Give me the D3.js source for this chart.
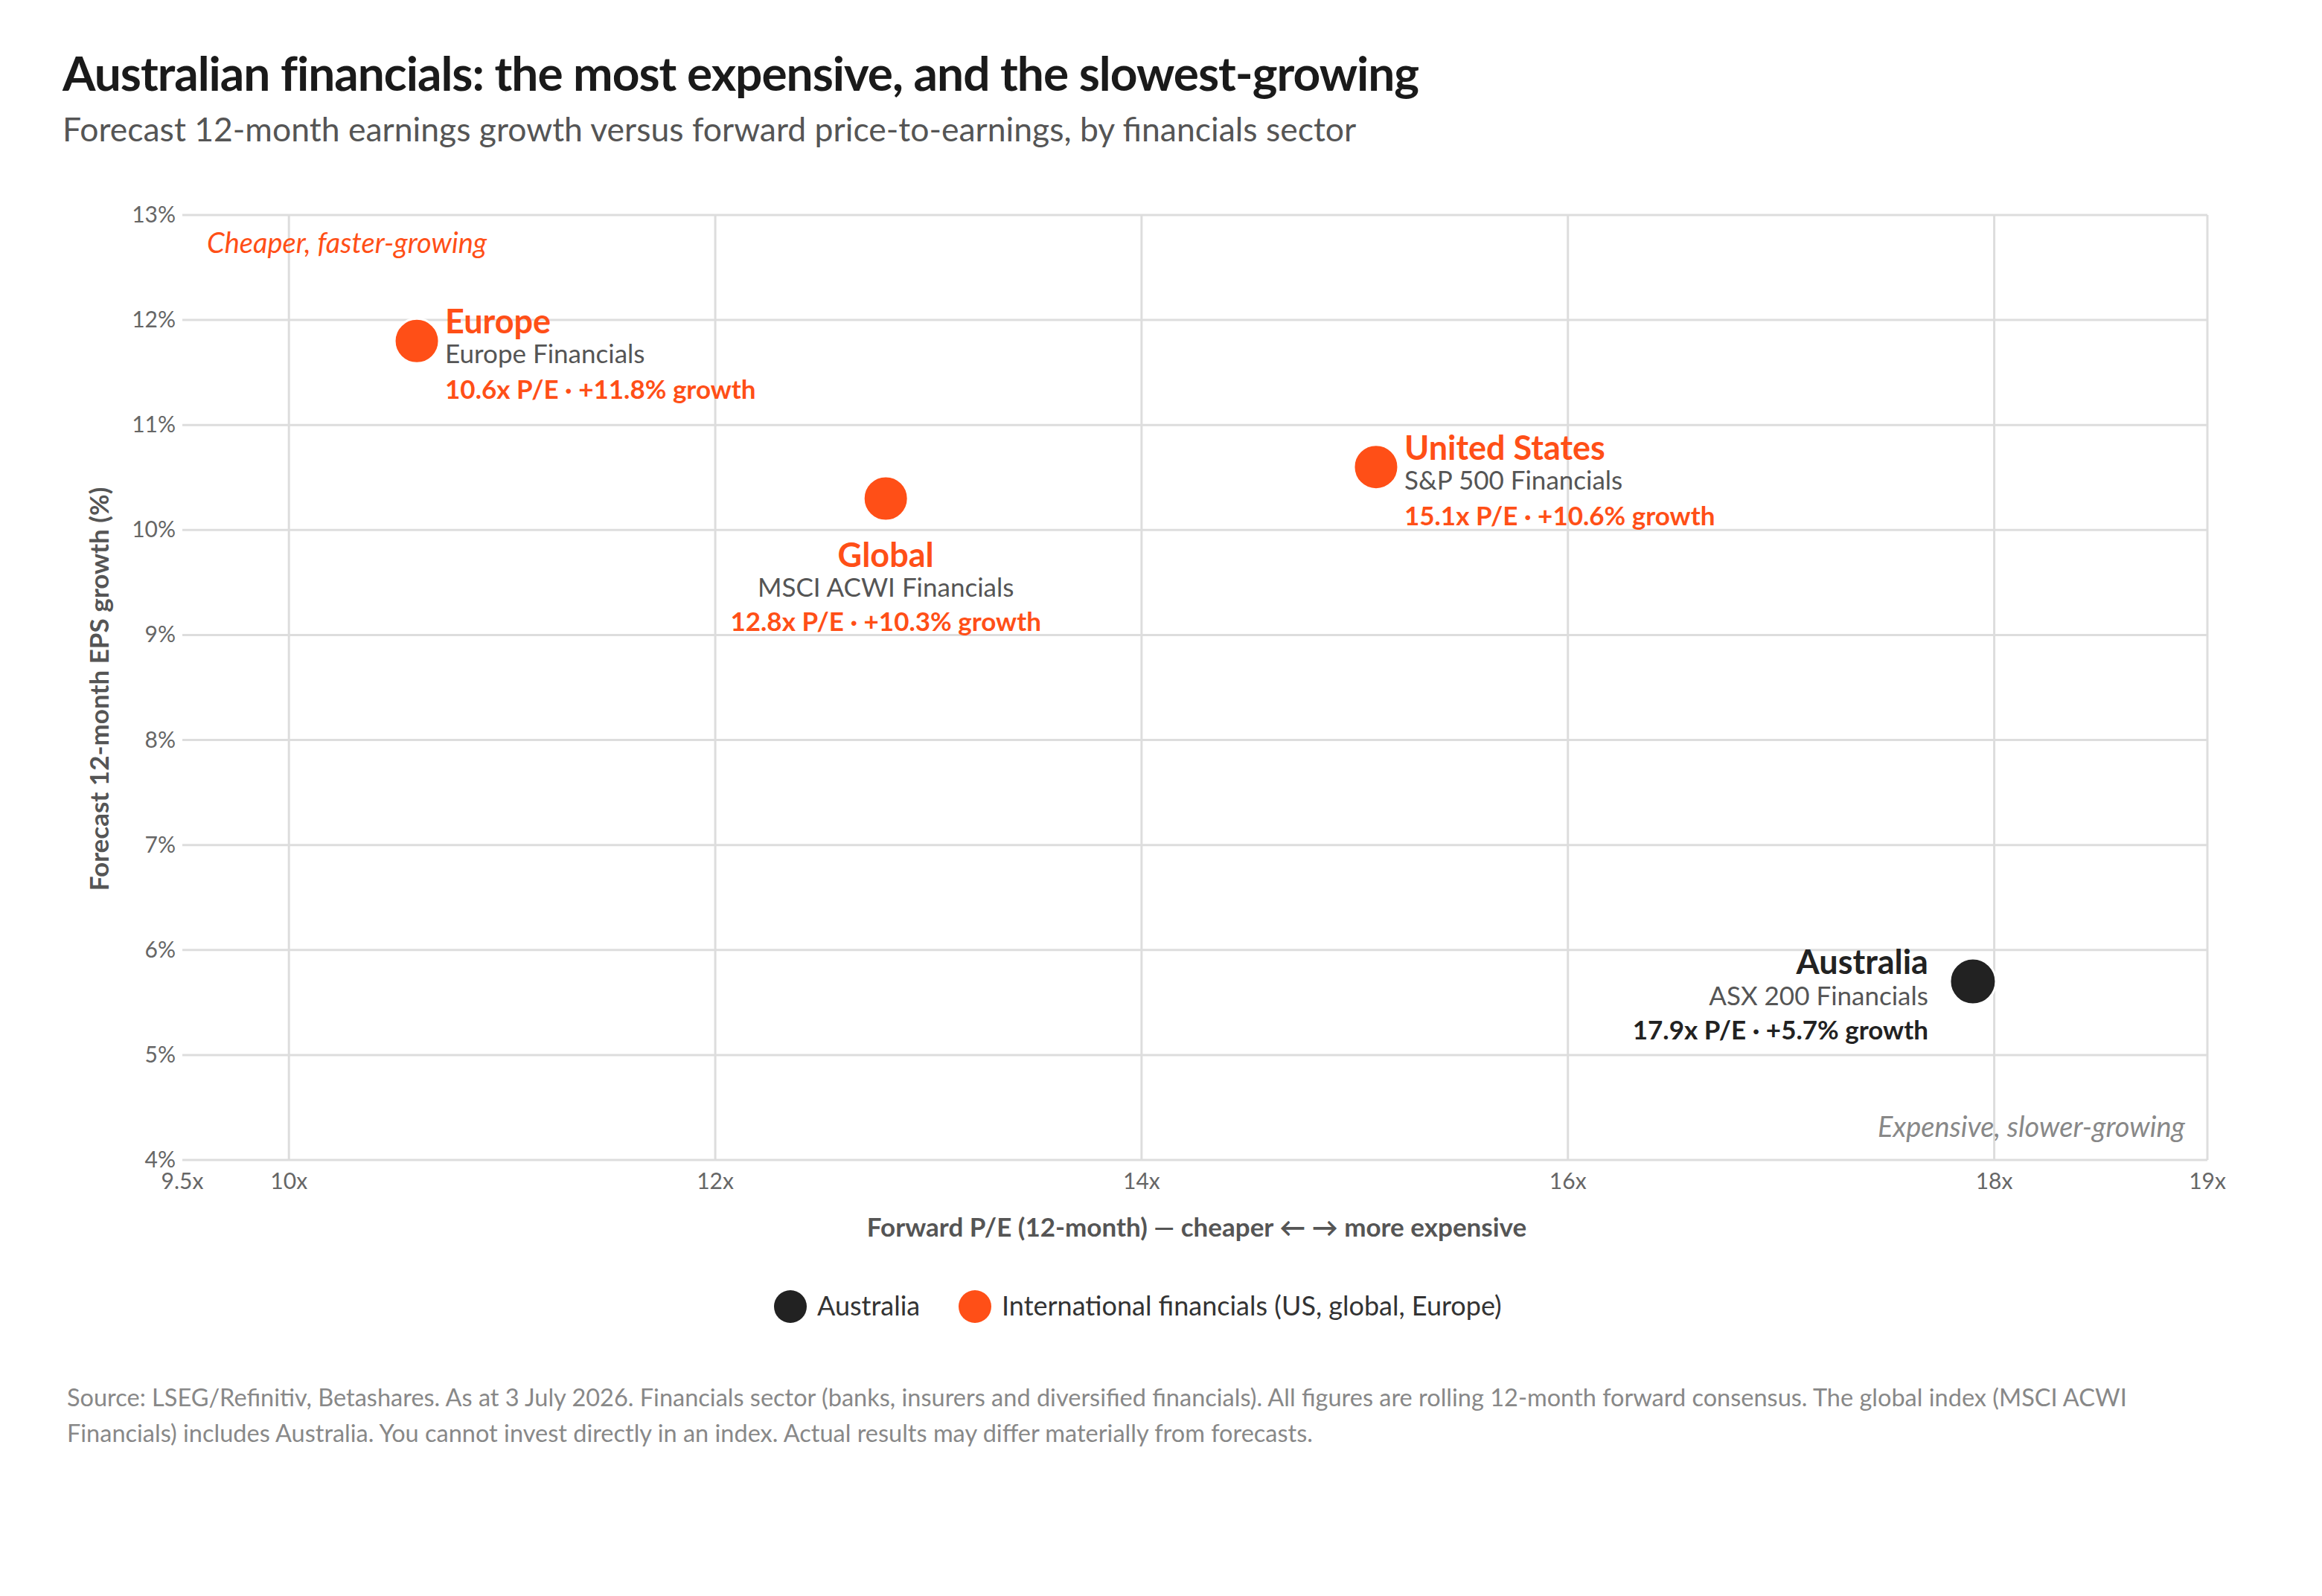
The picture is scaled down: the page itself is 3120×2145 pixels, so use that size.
<!DOCTYPE html>
<html>
<head>
<meta charset="utf-8">
<script src="https://cdn.jsdelivr.net/npm/d3@7"></script>
<style>
  body { margin: 0; background: #fff; }
  text { font-family: Lato, "Noto Sans", sans-serif; }
</style>
</head>
<body>
<svg id="chart" width="3120" height="2145"></svg>
<script>
// Data
var names = ["Europe", "Global", "United States", "Australia"];
var indexNames = ["Europe Financials", "MSCI ACWI Financials", "S&P 500 Financials", "ASX 200 Financials"];
var peValues = [10.6, 12.8, 15.1, 17.9];
var growthValues = [11.8, 10.3, 10.6, 5.7];
var groups = ["intl", "intl", "intl", "aus"];
var labelPos = ["right", "below", "right", "left"];
var xTicks = [9.5, 10, 12, 14, 16, 18, 19];
var yTicks = [4, 5, 6, 7, 8, 9, 10, 11, 12, 13];
var legendLabels = ["Australia", "International financials (US, global, Europe)"];

var ORANGE = "#ff4f17", DARK = "#222222";
var svg = d3.select("#chart");
var x = d3.scaleLinear().domain([9.5, 19]).range([245, 2966]);
var y = d3.scaleLinear().domain([4, 13]).range([1559, 289]);

// Title block
svg.append("text").attr("x", 84).attr("y", 122).attr("font-size", 64).attr("font-weight", 700)
  .attr("fill", "#1a1a1a").attr("letter-spacing", -1)
  .text("Australian financials: the most expensive, and the slowest-growing");
svg.append("text").attr("x", 84).attr("y", 190).attr("font-size", 44.5).attr("fill", "#555")
  .text("Forecast 12-month earnings growth versus forward price-to-earnings, by financials sector");

// Grid
var g = svg.append("g");
g.selectAll(".hg").data(yTicks).enter().append("line")
  .attr("x1", x(9.5)).attr("x2", x(19)).attr("y1", d => y(d)).attr("y2", d => y(d))
  .attr("stroke", "#dddddd").attr("stroke-width", 3);
g.selectAll(".vg").data(xTicks).enter().append("line")
  .attr("y1", y(4)).attr("y2", y(13)).attr("x1", d => x(d)).attr("x2", d => x(d))
  .attr("stroke", d => d === 9.5 ? "none" : "#dddddd").attr("stroke-width", 3);

// Tick labels
g.selectAll(".yl").data(yTicks).enter().append("text")
  .attr("x", 236).attr("y", d => y(d) + 10).attr("text-anchor", "end")
  .attr("font-size", 30).attr("fill", "#666").text(d => d + "%");
g.selectAll(".xl").data(xTicks).enter().append("text")
  .attr("x", d => x(d)).attr("y", 1598).attr("text-anchor", "middle")
  .attr("font-size", 30).attr("fill", "#666").text(d => d + "x");

// Axis titles
svg.append("text").attr("transform", "translate(146,926) rotate(-90)").attr("text-anchor", "middle")
  .attr("font-size", 35).attr("font-weight", 700).attr("fill", "#555")
  .text("Forecast 12-month EPS growth (%)");
svg.append("text").attr("x", 1608).attr("y", 1662).attr("text-anchor", "middle")
  .attr("font-size", 35).attr("font-weight", 700).attr("fill", "#555")
  .text("Forward P/E (12-month)  —  cheaper ←      → more expensive");

// Corner notes
svg.append("text").attr("x", 278).attr("y", 340).attr("font-size", 38).attr("font-style", "italic")
  .attr("fill", ORANGE).text("Cheaper, faster-growing");
svg.append("text").attr("x", 2936).attr("y", 1528).attr("text-anchor", "end").attr("font-size", 38)
  .attr("font-style", "italic").attr("fill", "#888").text("Expensive, slower-growing");

// Points
var pts = names.map(function (n, i) {
  return { name: n, idx: indexNames[i], pe: peValues[i], gr: growthValues[i], grp: groups[i], pos: labelPos[i] };
});
var pg = svg.selectAll(".pt").data(pts).enter().append("g")
  .attr("transform", d => "translate(" + x(d.pe) + "," + y(d.gr) + ")");
pg.append("circle").attr("r", d => d.grp === "aus" ? 31 : 30)
  .attr("fill", d => d.grp === "aus" ? DARK : ORANGE)
  .attr("stroke", "#fff").attr("stroke-width", 3);

function lab(sel, dx, dys, anchor) {
  var c = d => d.grp === "aus" ? DARK : ORANGE;
  sel.append("text").attr("x", dx).attr("y", dys[0]).attr("text-anchor", anchor)
    .attr("font-size", 45).attr("font-weight", 700).attr("fill", c).text(d => d.name);
  sel.append("text").attr("x", dx).attr("y", dys[1]).attr("text-anchor", anchor)
    .attr("font-size", 35).attr("fill", "#555").text(d => d.idx);
  sel.append("text").attr("x", dx).attr("y", dys[2]).attr("text-anchor", anchor)
    .attr("font-size", 35).attr("font-weight", 700).attr("fill", c)
    .text(d => d.pe.toFixed(1) + "x P/E  ·  +" + d.gr.toFixed(1) + "% growth");
}
lab(pg.filter(d => d.pos === "right"), 38, [-10, 30, 78], "start");
lab(pg.filter(d => d.pos === "below"), 0, [92, 132, 178], "middle");
lab(pg.filter(d => d.pos === "left"), -60, [-10, 32, 78], "end");

// Legend
var lx = [1062, 1310];
var lg = svg.selectAll(".lg").data(legendLabels).enter().append("g")
  .attr("transform", (d, i) => "translate(" + lx[i] + ",1756)");
lg.append("circle").attr("r", 22).attr("fill", (d, i) => i === 0 ? DARK : ORANGE);
lg.append("text").attr("x", 36).attr("y", 12).attr("font-size", 36).attr("fill", "#333").text(d => d);

// Source
var src = ["Source: LSEG/Refinitiv, Betashares. As at 3 July 2026. Financials sector (banks, insurers and diversified financials). All figures are rolling 12-month forward consensus. The global index (MSCI ACWI",
  "Financials) includes Australia. You cannot invest directly in an index. Actual results may differ materially from forecasts."];
svg.selectAll(".src").data(src).enter().append("text")
  .attr("x", 90).attr("y", (d, i) => 1890 + i * 48).attr("font-size", 32.5).attr("fill", "#888").text(d => d);
</script>
</body>
</html>
